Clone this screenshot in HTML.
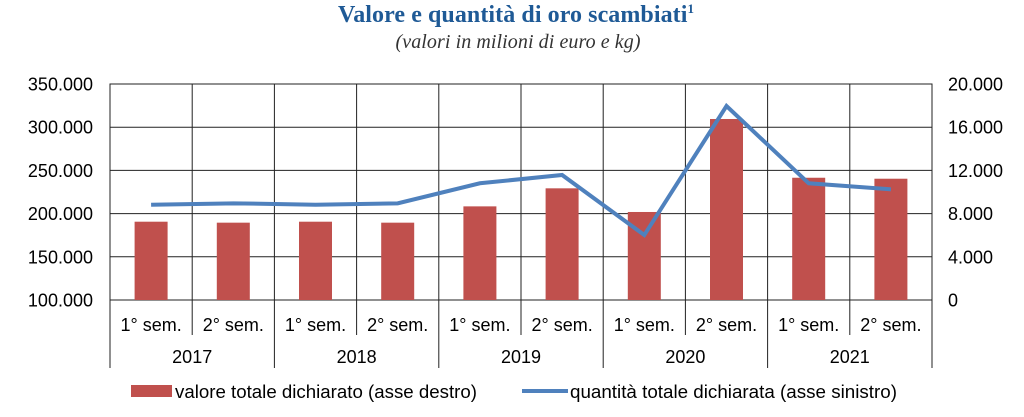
<!DOCTYPE html>
<html><head><meta charset="utf-8">
<style>
body{margin:0;background:#fff;width:1024px;height:417px;overflow:hidden;}
svg{display:block;font-family:"Liberation Sans",sans-serif;}
</style></head>
<body>
<svg id="chart" width="1024" height="417">
<text x="516" y="22" text-anchor="middle" font-family="Liberation Serif,serif" font-weight="bold" font-size="24" fill="#1f5a96" textLength="356">Valore e quantità di oro scambiati<tspan font-size="13" dy="-9">1</tspan></text>
<text x="518" y="48" text-anchor="middle" font-family="Liberation Serif,serif" font-style="italic" font-size="20" fill="#333" textLength="245">(valori in milioni di euro e kg)</text>
<g id="grid"></g><g id="bars"></g><g id="line"></g><g id="axes"></g>
<g>
<rect x="131" y="385" width="41" height="12" fill="#c0504d"/>
<text x="175" y="398" font-size="18" fill="#000" textLength="302" lengthAdjust="spacingAndGlyphs">valore totale dichiarato (asse destro)</text>
<line x1="522" y1="391" x2="568" y2="391" stroke="#4f81bd" stroke-width="4"/>
<text x="570" y="398" font-size="18" fill="#000" textLength="327" lengthAdjust="spacingAndGlyphs">quantità totale dichiarata (asse sinistro)</text>
</g>
</svg>
<script>
const semesters=["1° sem.","2° sem.","1° sem.","2° sem.","1° sem.","2° sem.","1° sem.","2° sem.","1° sem.","2° sem."];
const years=["2017","2018","2019","2020","2021"];
const valore=[7250,7160,7250,7160,8670,10340,8150,16760,11320,11230];
const quantita=[210300,211900,210300,211900,235100,244700,175200,324500,235100,228100];
const leftTicks=[100000,150000,200000,250000,300000,350000];
const rightTicks=[0,4000,8000,12000,16000,20000];
const X0=110,X1=932,Y0=300,Y1=84;
const cw=(X1-X0)/semesters.length;
const yL=v=>Y0-(v-100000)/250000*(Y0-Y1);
const yR=v=>Y0-v/20000*(Y0-Y1);
const xc=i=>X0+cw*(i+0.5);
const NS="http://www.w3.org/2000/svg";
function mk(t,a,p){const e=document.createElementNS(NS,t);for(const k in a)e.setAttribute(k,a[k]);p.appendChild(e);return e;}
const fmt=v=>v.toLocaleString("de-DE");
const grid=document.getElementById("grid"),bars=document.getElementById("bars"),line=document.getElementById("line"),axes=document.getElementById("axes");
leftTicks.forEach((t,i)=>{
 const y=yL(t);
 const l=mk("line",{x1:X0,x2:X1,y1:y,y2:y,stroke:"#222","stroke-width":1},grid);
 
 
 const tx=mk("text",{x:X0-17,y:y+6.5,"text-anchor":"end","font-size":18,fill:"#000"},axes);
 tx.textContent=fmt(t);
 
 
});
rightTicks.forEach(t=>{
 const tx=mk("text",{x:948,y:yR(t)+6.5,"font-size":18,fill:"#000"},axes);
 tx.textContent=fmt(t);
 
 
});
for(let i=0;i<=semesters.length;i++){
 const x=X0+cw*i;
 const bottom=(i%2===0)?368:335;
 const l=mk("line",{x1:x,x2:x,y1:Y1,y2:bottom,stroke:"#222","stroke-width":1},grid);
 
 
}
const ob=mk("rect",{x:X0,y:Y1,width:X1-X0,height:Y0-Y1,fill:"none",stroke:"#222"},grid);


semesters.forEach((s,i)=>{
 const tx=mk("text",{x:xc(i),y:331,"text-anchor":"middle","font-size":18,fill:"#000"},axes);
 tx.textContent=s;
 
 
 const b=mk("rect",{x:xc(i)-16.5,y:yR(valore[i]),width:33,height:Y0-yR(valore[i]),fill:"#c0504d"},bars);
 
 
});
years.forEach((y,i)=>{
 const tx=mk("text",{x:X0+cw*(2*i+1),y:363,"text-anchor":"middle","font-size":18,fill:"#000"},axes);
 tx.textContent=y;
 
 
});
const pl=mk("polyline",{points:quantita.map((v,i)=>xc(i)+","+yL(v)).join(" "),fill:"none",stroke:"#4f81bd","stroke-width":4,"stroke-linejoin":"miter"},line);


</script>
</body></html>
